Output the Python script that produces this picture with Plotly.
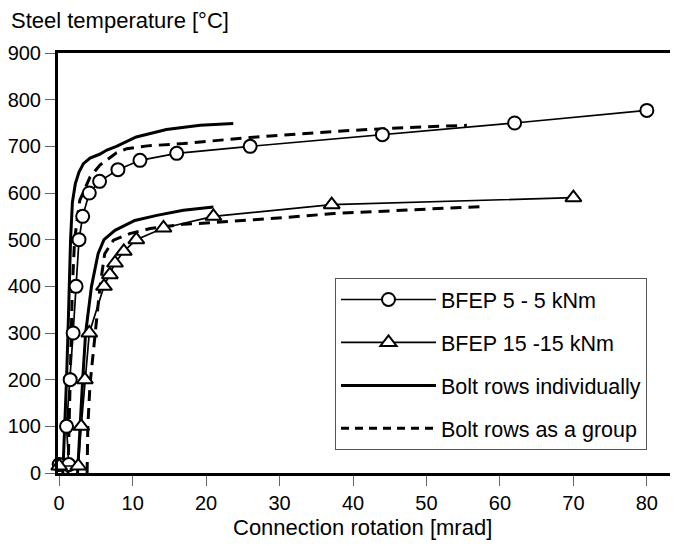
import plotly.graph_objects as go

# ---- data ----
bfep5_rot = [0, 1.3, 1.0, 1.5, 1.9, 2.3, 2.7, 3.2, 4.1, 5.5, 8.0, 11.0, 16.0, 26.0, 44.0, 62.0, 80.0]
bfep5_temp = [18, 18, 100, 200, 300, 400, 500, 550, 600, 625, 650, 670, 685, 700, 725, 750, 777]

bfep15_rot = [0, 2.6, 3.0, 3.5, 4.1, 6.1, 6.9, 7.6, 8.8, 10.5, 14.2, 21.0, 37.1, 70.0]
bfep15_temp = [15, 15, 100, 200, 300, 400, 425, 450, 475, 500, 525, 550, 575, 590]

indiv5_rot = [0.5, 0.8, 1.0, 1.2, 1.35, 1.55, 1.8, 2.2, 2.7, 3.3, 4.2, 5.5, 6.5, 7.8, 10.5, 14.6, 19.2, 23.7]
indiv5_temp = [0, 100, 200, 300, 400, 500, 580, 620, 645, 663, 675, 683, 692, 700, 720, 736, 745, 749]

indiv15_rot = [2.5, 2.8, 3.2, 3.6, 4.4, 5.3, 6.1, 7.6, 10.3, 13.3, 16.9, 21.0]
indiv15_temp = [0, 100, 200, 300, 400, 470, 500, 520, 541, 552, 563, 570]

group5_rot = [1.2, 1.35, 1.5, 1.65, 1.8, 2.1, 2.8, 4.2, 5.55, 7.8, 9.2, 12.0, 16.9, 26.0, 32.8, 39.6, 47.0, 55.5]
group5_temp = [0, 100, 200, 300, 400, 500, 584, 634, 660, 686, 695, 701, 706, 719, 727, 734, 740, 745]

group15_rot = [3.8, 3.9, 4.2, 4.65, 5.1, 5.55, 6.2, 7.4, 9.6, 12.4, 16.9, 21.4, 30.5, 37.4, 57.5]
group15_temp = [0, 100, 190, 256, 327, 399, 470, 499, 513, 524, 533, 537, 547, 556, 571]

x_ticks = [0, 10, 20, 30, 40, 50, 60, 70, 80]
y_ticks = [0, 100, 200, 300, 400, 500, 600, 700, 800, 900]

FONT = "Liberation Sans, Arial, sans-serif"

# The page body has an 8px margin; the figure is sized/placed to compensate.
OFF = 8
W, H = 670, 538
ML, MR, MT, MB = 50, 0, 45, 73
PW, PH = W - ML - MR, H - MT - MB


def px_x(page_x):
    return (page_x - OFF - ML) / PW


def px_y(page_y):
    return (MT + PH - (page_y - OFF)) / PH


fig = go.Figure()

# Thick model curves
fig.add_trace(go.Scatter(x=indiv5_rot, y=indiv5_temp, mode="lines",
                         line=dict(color="black", width=3), showlegend=False))
fig.add_trace(go.Scatter(x=indiv15_rot, y=indiv15_temp, mode="lines",
                         line=dict(color="black", width=3), showlegend=False))
fig.add_trace(go.Scatter(x=group5_rot, y=group5_temp, mode="lines",
                         line=dict(color="black", width=3, dash="11px,7px"), showlegend=False))
fig.add_trace(go.Scatter(x=group15_rot, y=group15_temp, mode="lines",
                         line=dict(color="black", width=3, dash="11px,7px"), showlegend=False))

# Test series
fig.add_trace(go.Scatter(x=bfep5_rot, y=bfep5_temp, mode="lines+markers", name="BFEP 5 - 5 kNm",
                         line=dict(color="black", width=1.7),
                         marker=dict(symbol="circle", size=13, color="white",
                                     line=dict(color="black", width=2)),
                         cliponaxis=False, legendgroup="g1", legendrank=1))
fig.add_trace(go.Scatter(x=bfep15_rot, y=bfep15_temp, mode="lines+markers", name="BFEP 15 -15 kNm",
                         line=dict(color="black", width=1.7),
                         marker=dict(symbol="triangle-up", size=14, color="white",
                                     line=dict(color="black", width=2)),
                         cliponaxis=False, legendgroup="g2", legendrank=2))

# Legend-only entries for the line styles
fig.add_trace(go.Scatter(x=[None], y=[None], mode="lines", name="Bolt rows individually",
                         line=dict(color="black", width=3), legendgroup="g3", legendrank=3))
fig.add_trace(go.Scatter(x=[None], y=[None], mode="lines", name="Bolt rows as a group",
                         line=dict(color="black", width=3, dash="8px,6px"), legendgroup="g4", legendrank=4))

fig.update_layout(
    width=W, height=H,
    margin=dict(l=ML, r=MR, t=MT, b=MB, autoexpand=False),
    plot_bgcolor="white", paper_bgcolor="white",
    font=dict(family=FONT, size=20, color="black"),
    showlegend=True,
    legend=dict(x=px_x(335), y=px_y(278), xanchor="left", yanchor="top",
                bordercolor="#555555", borderwidth=1, bgcolor="white",
                font=dict(family=FONT, size=21.5, color="black"),
                traceorder="grouped", itemwidth=95, tracegroupgap=12,
                entrywidth=218, entrywidthmode="pixels"),
    xaxis=dict(range=[-0.16, 84.24], tickmode="array", tickvals=x_ticks,
               ticks="outside", ticklen=10, tickwidth=1, tickcolor="#666666",
               tickfont=dict(family=FONT, size=20),
               showline=True, linecolor="black", linewidth=3, mirror=True,
               showgrid=False, zeroline=False, automargin=False),
    yaxis=dict(range=[0, 900], tickmode="array", tickvals=y_ticks,
               ticks="outside", ticklen=10, tickwidth=1, tickcolor="#666666",
               tickfont=dict(family=FONT, size=20),
               showline=True, linecolor="black", linewidth=3,
               showgrid=False, zeroline=False, automargin=False),
    annotations=[
        dict(text="Steel temperature [°C]", xref="paper", yref="paper",
             x=px_x(9), y=px_y(20), xanchor="left", yanchor="middle",
             showarrow=False, font=dict(family=FONT, size=22)),
        dict(text="Connection rotation [mrad]", xref="paper", yref="paper",
             x=px_x(362), y=px_y(527), xanchor="center", yanchor="middle",
             showarrow=False, font=dict(family=FONT, size=22)),
    ],
)

fig.write_html("out.html")
